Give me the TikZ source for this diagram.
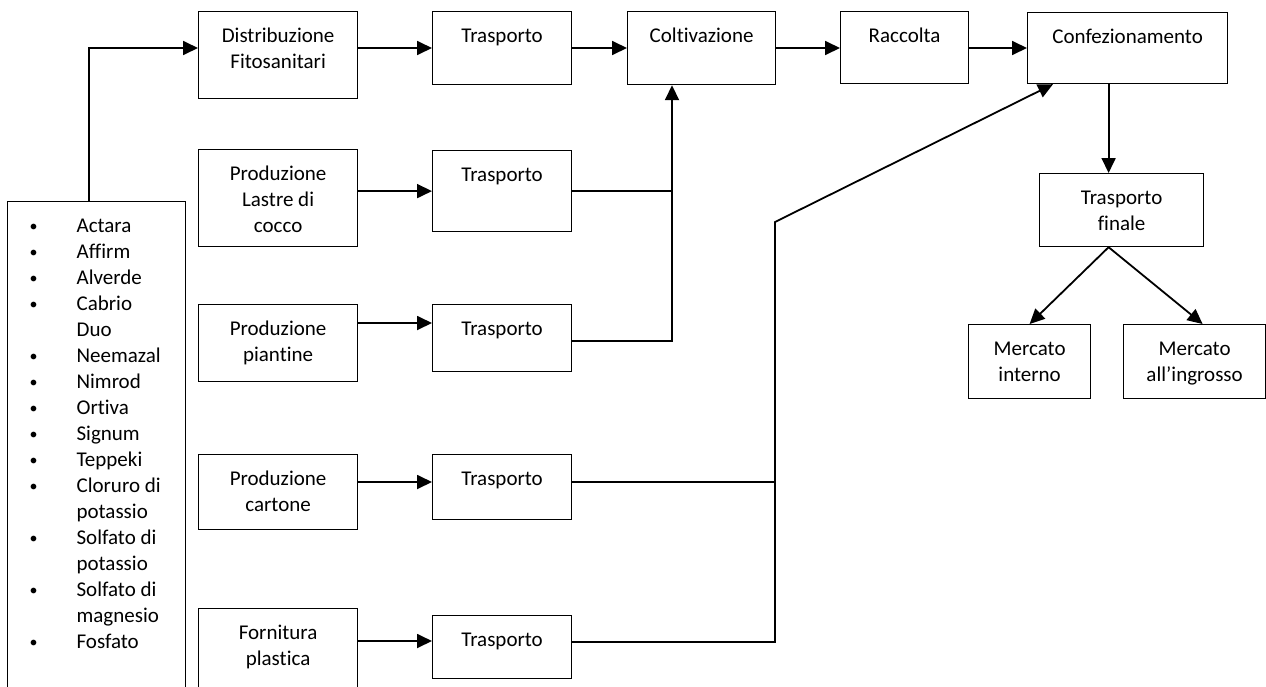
\documentclass[tikz,border=0pt]{standalone}
\usepackage{fontspec}
\setmainfont{Carlito}[Ligatures=NoCommon]
\usetikzlibrary{arrows.meta}
\newcommand\bx[3]{\parbox[c][#2pt][t]{#1pt}{\centering\vspace*{12.5pt}\strut #3\par}}
\newcommand\itm[1]{\strut\hspace*{22pt}\makebox[47pt][l]{\raisebox{1pt}{\fontsize{16}{26}\selectfont •}}#1\par}
\newcommand\cnt[1]{\strut\hspace*{69pt}#1\par}
\begin{document}
\begin{tikzpicture}[x=1pt,y=-1pt,
  box/.style={draw, line width=1.2pt, inner sep=0pt, anchor=north west, font=\fontsize{21}{26}\selectfont},
  arr/.style={line width=1.8pt, -{Triangle[length=15pt,width=14pt]}},
  ln/.style={line width=1.4pt}]
\clip (0,0) rectangle (1266,686);
\fill[white] (0,0) rectangle (1266,686);
% top row
\node[box] (dist) at (198,11) {\bx{159}{87}{Distribuzione\\Fitosanitari}};
\node[box] (t1) at (432,11) {\bx{139}{73}{Trasporto}};
\node[box] (colt) at (627,11) {\bx{148}{73}{Coltivazione}};
\node[box] (racc) at (840,11) {\bx{128}{72}{Raccolta}};
\node[box] (conf) at (1027,12) {\bx{200}{71}{Confezionamento}};
% left column
\node[box] (lastre) at (198,149) {\bx{159}{97}{Produzione\\Lastre di\\cocco}};
\node[box] (t2) at (432,150) {\bx{139}{81}{Trasporto}};
\node[box] (piant) at (198,304) {\bx{159}{77}{Produzione\\piantine}};
\node[box] (t3) at (432,304) {\bx{139}{67}{Trasporto}};
\node[box] (cart) at (198,454) {\bx{159}{75}{Produzione\\cartone}};
\node[box] (t4) at (432,454) {\bx{139}{65}{Trasporto}};
\node[box] (forn) at (198,608) {\bx{159}{92}{Fornitura\\plastica}};
\node[box] (t5) at (432,615) {\bx{139}{63}{Trasporto}};
% right part
\node[box] (tf) at (1039,173) {\bx{164}{73}{Trasporto\\finale}};
\node[box] (mi) at (968,324) {\bx{122}{74}{Mercato\\interno}};
\node[box] (mg) at (1123,324) {\bx{142}{74}{Mercato\\all’ingrosso}};
% list
\node[box] (list) at (7,201) {\parbox[c][499pt][t]{178pt}{\vspace*{13pt}%
\itm{Actara}\itm{Affirm}\itm{Alverde}\itm{Cabrio}\cnt{Duo}\itm{Neemazal}\itm{Nimrod}\itm{Ortiva}\itm{Signum}\itm{Teppeki}\itm{Cloruro di}\cnt{potassio}\itm{Solfato di}\cnt{potassio}\itm{Solfato di}\cnt{magnesio}\itm{Fosfato}}};
% coordinates
\coordinate (ya) at (0,48);
\coordinate (y3) at (0,323);
\coordinate (y3o) at (0,341);
\coordinate (y4) at (0,482);
\coordinate (y5) at (0,641);
\coordinate (y5o) at (0,642);
\coordinate (xv1) at (672,0);
\coordinate (j2) at (775,222);
% connectors top row
\draw[arr] ([xshift=-8pt]list.north) |- (dist.west |- ya);
\draw[arr] (dist.east |- ya) -- (t1.west |- ya);
\draw[arr] (t1.east |- ya) -- (colt.west |- ya);
\draw[arr] (colt.east |- ya) -- (racc.west |- ya);
\draw[arr] (racc.east |- ya) -- (conf.west |- ya);
% left rows
\draw[arr] (lastre.east |- t2.west) -- (t2.west);
\draw[arr] (piant.east |- y3) -- (t3.west |- y3);
\draw[arr] (cart.east |- y4) -- (t4.west |- y4);
\draw[arr] (forn.east |- y5) -- (t5.west |- y5);
% to coltivazione
\draw[ln] (t2.east) -- (t2.east -| xv1);
\draw[arr] (t3.east |- y3o) -| ([xshift=45pt]colt.south west);
% to confezionamento
\draw[ln] (t4.east |- y4) -- (y4 -| j2);
\draw[arr] (t5.east |- y5o) -| (j2) -- ([xshift=26pt]conf.south west);
% right
\draw[arr] ([xshift=-19pt]conf.south) -- ([xshift=-13pt]tf.north);
\draw[arr] ([xshift=-13pt]tf.south) -- (mi.north);
\draw[arr] ([xshift=-13pt]tf.south) -- ([xshift=8pt]mg.north);
\end{tikzpicture}
\end{document}
